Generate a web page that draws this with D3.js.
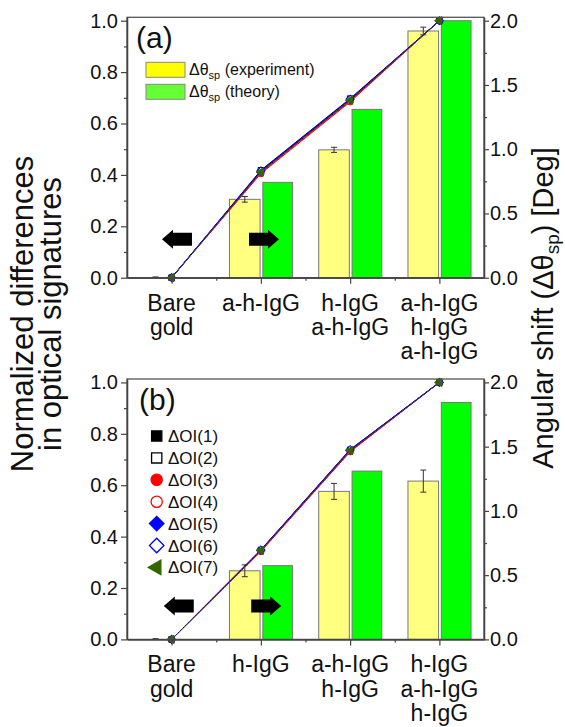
<!DOCTYPE html>
<html>
<head>
<meta charset="utf-8">
<script src="https://cdn.jsdelivr.net/npm/d3@7"></script>
<style>
  body { margin: 0; background: #fff; }
  text { font-family: "Liberation Sans", Arial, sans-serif; fill: #111; }
</style>
</head>
<body>
<div id="chart"></div>
<script>
// ---- data ----
var catsA = [["Bare", "gold"], ["a-h-IgG"], ["h-IgG", "a-h-IgG"], ["a-h-IgG", "h-IgG", "a-h-IgG"]];
var catsB = [["Bare", "gold"], ["h-IgG"], ["a-h-IgG", "h-IgG"], ["h-IgG", "a-h-IgG", "h-IgG"]];

// bar values, angular shift in Deg (right axis)
var expA = [0, 0.61, 0.995, 1.92];
var expErrA = [0.006, 0.022, 0.02, 0.03];
var theoryA = [0, 0.742, 1.31, 2.0];

var expB = [0, 0.534, 1.152, 1.232];
var expErrB = [0.006, 0.046, 0.062, 0.086];
var theoryB = [0, 0.574, 1.31, 1.844];

// normalized differences (left axis), seven optical signatures
var oiA = [
    [0, 0.412, 0.690, 1],
    [0, 0.418, 0.697, 1],
    [0, 0.405, 0.684, 1],
    [0, 0.408, 0.687, 1],
    [0, 0.414, 0.693, 1],
    [0, 0.416, 0.695, 1],
    [0, 0.411, 0.691, 1]
];
var oiB = [
    [0, 0.345, 0.733, 1],
    [0, 0.348, 0.738, 1],
    [0, 0.342, 0.730, 1],
    [0, 0.344, 0.732, 1],
    [0, 0.347, 0.736, 1],
    [0, 0.349, 0.739, 1],
    [0, 0.346, 0.735, 1]
];
var oiNames = ["\u0394OI(1)", "\u0394OI(2)", "\u0394OI(3)", "\u0394OI(4)", "\u0394OI(5)", "\u0394OI(6)", "\u0394OI(7)"];

var leftTicks = [0, 0.2, 0.4, 0.6, 0.8, 1.0];
var rightTicks = [0, 0.5, 1.0, 1.5, 2.0];

// ---- style ----
var oiStyle = [
    { color: "#000000", shape: "square", open: false },
    { color: "#000000", shape: "square", open: true },
    { color: "#ff0000", shape: "circle", open: false },
    { color: "#ff0000", shape: "circle", open: true },
    { color: "#0000ff", shape: "diamond", open: false },
    { color: "#0000ff", shape: "diamond", open: true },
    { color: "#336600", shape: "triangle", open: false }
];

var W = 565, H = 727;
var plotLeft = 127, plotRight = 484, plotH = 260.4;
var yMax = 1.0133;

var svg = d3.select("#chart").append("svg")
    .attr("width", W)
    .attr("height", H);

function markerPath(shape, area) {
    var t = { square: d3.symbolSquare, circle: d3.symbolCircle, diamond: d3.symbolSquare, triangle: d3.symbolTriangle }[shape];
    return d3.symbol().type(t).size(area)();
}
function markerRotate(shape) {
    if (shape === "diamond") return 45;
    if (shape === "triangle") return -90;
    return 0;
}

function arrowPath(cx, cy, dir) {
    // block arrow, 30px long, head 11px long and 19px tall, tail 13px tall
    var L = 30, hl = 11, hh = 9.5, th = 6.5;
    var tip = cx + dir * L / 2, back = cx - dir * L / 2, neck = tip - dir * hl;
    return "M" + tip + "," + cy +
        "L" + neck + "," + (cy - hh) +
        "L" + neck + "," + (cy - th) +
        "L" + back + "," + (cy - th) +
        "L" + back + "," + (cy + th) +
        "L" + neck + "," + (cy + th) +
        "L" + neck + "," + (cy + hh) + "Z";
}

function drawPanel(top, cats, exp, expErr, theory, oi, opts) {
    var g = svg.append("g").attr("transform", "translate(0," + top + ")");

    var x = d3.scaleLinear().domain([-0.5, 3.5]).range([plotLeft, plotRight]);
    var y = d3.scaleLinear().domain([0, yMax]).range([plotH, 0]);
    var y2 = d3.scaleLinear().domain([0, 2 * yMax]).range([plotH, 0]);

    // bars
    var idx = d3.range(cats.length);
    g.selectAll("rect.exp").data(idx).enter().append("rect")
        .attr("class", "exp")
        .attr("x", function (i) { return x(i - 0.352); })
        .attr("width", x(0.343) - x(0))
        .attr("y", function (i) { return y2(exp[i]); })
        .attr("height", function (i) { return plotH - y2(exp[i]); })
        .attr("fill", "#ffff80")
        .attr("stroke", "#777")
        .attr("stroke-width", 1);
    g.selectAll("rect.th").data(idx).enter().append("rect")
        .attr("class", "th")
        .attr("x", function (i) { return x(i + 0.022); })
        .attr("width", x(0.333) - x(0))
        .attr("y", function (i) { return y2(theory[i]); })
        .attr("height", function (i) { return plotH - y2(theory[i]); })
        .attr("fill", "#00ff00")
        .attr("stroke", "#777")
        .attr("stroke-width", 1);

    // error bars on experiment bars
    var eb = g.selectAll("g.err").data(idx).enter().append("g").attr("class", "err")
        .attr("stroke", "#333").attr("stroke-width", 1);
    eb.append("line")
        .attr("x1", function (i) { return x(i - 0.18); })
        .attr("x2", function (i) { return x(i - 0.18); })
        .attr("y1", function (i) { return y2(exp[i] + expErr[i]); })
        .attr("y2", function (i) { return y2(Math.max(0, exp[i] - expErr[i])); });
    eb.append("line")
        .attr("x1", function (i) { return x(i - 0.18) - 3; })
        .attr("x2", function (i) { return x(i - 0.18) + 3; })
        .attr("y1", function (i) { return y2(exp[i] + expErr[i]); })
        .attr("y2", function (i) { return y2(exp[i] + expErr[i]); });
    eb.filter(function (i) { return exp[i] - expErr[i] > 0; }).append("line")
        .attr("x1", function (i) { return x(i - 0.18) - 3; })
        .attr("x2", function (i) { return x(i - 0.18) + 3; })
        .attr("y1", function (i) { return y2(exp[i] - expErr[i]); })
        .attr("y2", function (i) { return y2(exp[i] - expErr[i]); });

    // arrows: left one points to left axis, right one to right axis
    g.append("path").attr("d", arrowPath(x(opts.arrowL), y(opts.arrowY), -1)).attr("fill", "#000");
    g.append("path").attr("d", arrowPath(x(opts.arrowR), y(opts.arrowY), 1)).attr("fill", "#000");

    // OI lines + markers
    var line = d3.line().x(function (d, i) { return x(i); }).y(function (d) { return y(d); });
    oi.forEach(function (s, k) {
        var st = oiStyle[k];
        g.append("path").datum(s)
            .attr("d", line)
            .attr("fill", "none")
            .attr("stroke", st.color)
            .attr("stroke-width", 1)
            .attr("stroke-dasharray", k === 6 ? "2,1.5" : null);
        g.selectAll("path.m" + k).data(s).enter().append("path")
            .attr("class", "m" + k)
            .attr("d", markerPath(st.shape, 30))
            .attr("transform", function (d, i) {
                return "translate(" + x(i) + "," + y(d) + ") rotate(" + markerRotate(st.shape) + ")";
            })
            .attr("fill", st.open ? "#fff" : st.color)
            .attr("stroke", st.color)
            .attr("stroke-width", 1);
    });

    // frame
    g.append("rect")
        .attr("x", plotLeft).attr("y", y(yMax))
        .attr("width", plotRight - plotLeft).attr("height", plotH)
        .attr("fill", "none").attr("stroke", "#555").attr("stroke-width", 1.3);

    // axes
    var axisStyle = function (sel) {
        sel.selectAll(".domain").attr("stroke", "#444").attr("stroke-width", 1.3);
        sel.selectAll(".tick line").attr("stroke", "#444").attr("stroke-width", 1.2);
        sel.selectAll(".tick text").style("font-family", "'Liberation Sans', Arial, sans-serif")
            .style("font-size", "20px").attr("fill", "#111");
    };

    g.append("g").attr("transform", "translate(" + plotLeft + ",0)")
        .call(d3.axisLeft(y).tickValues(leftTicks).tickSize(6).tickSizeOuter(0).tickPadding(3)
            .tickFormat(d3.format(".1f")))
        .call(axisStyle);
    g.append("g").attr("transform", "translate(" + plotLeft + ",0)")
        .call(d3.axisLeft(y).tickValues([0.1, 0.3, 0.5, 0.7, 0.9]).tickSize(3).tickSizeOuter(0).tickFormat(""))
        .call(axisStyle);

    g.append("g").attr("transform", "translate(" + plotRight + ",0)")
        .call(d3.axisRight(y2).tickValues(rightTicks).tickSize(5).tickSizeOuter(0).tickPadding(1)
            .tickFormat(d3.format(".1f")))
        .call(axisStyle);
    g.append("g").attr("transform", "translate(" + plotRight + ",0)")
        .call(d3.axisRight(y2).tickValues([0.25, 0.75, 1.25, 1.75]).tickSize(3).tickSizeOuter(0).tickFormat(""))
        .call(axisStyle);

    g.append("g").attr("transform", "translate(0," + plotH + ")")
        .call(d3.axisBottom(x).tickValues(idx).tickSize(6).tickSizeOuter(0).tickFormat(""))
        .call(axisStyle);
    g.append("g").attr("transform", "translate(0," + plotH + ")")
        .call(d3.axisBottom(x).tickValues([0.5, 1.5, 2.5]).tickSize(3).tickSizeOuter(0).tickFormat(""))
        .call(axisStyle);

    // category labels
    cats.forEach(function (lines, i) {
        var t = g.append("text")
            .attr("x", x(i))
            .attr("y", plotH + 33)
            .attr("text-anchor", "middle")
            .style("font-size", "23px");
        lines.forEach(function (s, j) {
            t.append("tspan").attr("x", x(i)).attr("dy", j === 0 ? 0 : 24.3).text(s);
        });
    });

    // panel letter
    g.append("text")
        .attr("x", opts.letterX).attr("y", opts.letterY)
        .style("font-size", "30px")
        .text(opts.letter);

    return { g: g, x: x, y: y };
}

var pa = drawPanel(17.3, catsA, expA, expErrA, theoryA, oiA,
    { arrowL: 0.06, arrowR: 1.035, arrowY: 0.15, letter: "(a)", letterX: 136, letterY: 48 - 17.3 });
var pb = drawPanel(379, catsB, expB, expErrB, theoryB, oiB,
    { arrowL: 0.08, arrowR: 1.06, arrowY: 0.13, letter: "(b)", letterX: 139, letterY: 410 - 379 });

// legend (a)
var legA = [
    { label: "(experiment)", fill: "#ffff00" },
    { label: "(theory)", fill: "#66ff33" }
];
legA.forEach(function (d, i) {
    var yy = 62.3 + i * 22;
    svg.append("rect")
        .attr("x", 146).attr("y", yy).attr("width", 39).attr("height", 15)
        .attr("fill", d.fill).attr("stroke", "#888").attr("stroke-width", 1);
    var t = svg.append("text").attr("x", 189).attr("y", yy + 13).style("font-size", "16px");
    t.append("tspan").text("\u0394\u03b8");
    t.append("tspan").attr("dy", 4).style("font-size", "11px").text("sp");
    t.append("tspan").attr("dy", -4).text(" " + d.label);
});

// legend (b)
oiNames.forEach(function (name, k) {
    var st = oiStyle[k];
    var yy = 436 + k * 21.9;
    var area = st.shape === "circle" ? 100 : (st.shape === "triangle" ? 90 : 105);
    svg.append("path")
        .attr("d", markerPath(st.shape, area))
        .attr("transform", "translate(156.7," + yy + ") rotate(" + markerRotate(st.shape) + ")")
        .attr("fill", st.open ? "#fff" : st.color)
        .attr("stroke", st.color)
        .attr("stroke-width", 1.3);
    svg.append("text")
        .attr("x", 168).attr("y", yy + 6)
        .style("font-size", "17px")
        .attr("fill", "#333")
        .text(name);
});

// axis titles
var lt = svg.append("g").attr("transform", "translate(33,314) rotate(-90)");
lt.append("text").attr("text-anchor", "middle").style("font-size", "31px").text("Normalized differences");
lt.append("text").attr("text-anchor", "middle").attr("y", 28).style("font-size", "31px").text("in optical signatures");

var rt = svg.append("text")
    .attr("transform", "translate(553,308) rotate(-90)")
    .attr("text-anchor", "middle")
    .style("font-size", "29px");
rt.append("tspan").text("Angular shift (\u0394\u03b8");
rt.append("tspan").attr("dy", 6).style("font-size", "19px").text("sp");
rt.append("tspan").attr("dy", -6).text(") [Deg]");
</script>
</body>
</html>
